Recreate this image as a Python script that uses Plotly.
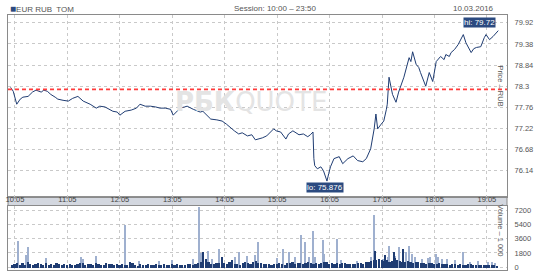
import plotly.graph_objects as go
from plotly.subplots import make_subplots
import datetime as dt

DAY = "2016-03-10 "

# ---- price series (time, RUB) ----
price_times = ["10:00","10:03","10:07","10:11","10:14","10:20","10:25","10:29","10:35","10:38",
               "10:42","10:46","10:51","10:54","11:00","11:06","11:11","11:17","11:23","11:31",
               "11:38","11:42","11:48","11:54","11:57","12:02","12:05","12:11","12:18","12:24",
               "12:28","12:34","12:40","12:46","12:51","12:57","13:03","13:06","13:10","13:14",
               "13:19","13:22","13:29","13:37","13:40","13:44","13:49","13:56","14:02","14:07",
               "14:12","14:16","14:21","14:25","14:31","14:36","14:40","14:45","14:48","14:53",
               "14:58","15:01","15:04","15:09","15:15","15:18","15:23","15:26","15:30","15:35",
               "15:40","15:43","15:46","15:47","15:48","15:51","15:55","15:58","16:02","16:04",
               "16:06","16:10","16:16","16:20","16:26","16:32","16:37","16:43","16:47","16:52",
               "16:54","16:56","16:58","17:00","17:04","17:07","17:10","17:11","17:13","17:15",
               "17:17","17:21","17:24","17:30","17:36","17:38","17:40","17:44","17:47","17:49",
               "17:55","17:59","18:03","18:07","18:12","18:16","18:18","18:22","18:24","18:28",
               "18:32","18:38","18:41","18:47","18:50","18:53","18:58","19:02","19:04","19:08",
               "19:12","19:18"]
price_values = [78.27,78.17,77.84,77.97,78.02,78.04,78.15,78.20,78.15,78.20,
                78.17,78.09,78.02,77.97,77.94,77.92,77.99,78.04,77.92,77.84,
                77.74,77.79,77.77,77.71,77.66,77.64,77.56,77.66,77.69,77.74,
                77.84,77.79,77.79,77.77,77.74,77.74,77.71,77.56,77.66,77.74,
                77.77,77.79,77.71,77.64,77.66,77.56,77.46,77.44,77.41,77.33,
                77.23,77.16,77.08,77.11,77.03,77.06,76.93,76.95,76.98,77.03,
                77.13,77.21,77.16,77.13,76.95,77.08,77.16,77.11,77.06,77.08,
                77.01,77.06,77.13,76.45,76.27,76.19,76.24,76.14,75.876,76.07,
                76.24,76.45,76.50,76.32,76.45,76.52,76.40,76.37,76.45,76.70,
                76.95,77.21,77.59,77.21,77.33,77.41,77.71,77.84,78.53,78.27,
                78.09,77.89,78.15,78.53,79.03,78.93,79.18,78.86,78.78,78.65,
                78.30,78.65,78.42,78.93,79.06,78.98,79.11,79.06,79.16,79.24,
                79.36,79.62,79.41,79.16,79.26,79.29,79.31,79.54,79.62,79.49,
                79.57,79.72]
prev_close = 78.22

# ---- volume: 3-minute base (dark) from 10:00 ----
base_volume = [
    300,450,600,380,520,350,700,420,300,480,560,400,350,620,300,450,380,520,400,330,
    420,350,500,300,380,450,520,600,350,400,480,300,550,420,380,350,600,450,400,380,
    500,350,420,300,380,700,520,300,250,400,350,300,420,280,350,400,300,380,450,320,
    350,400,300,450,380,300,350,420,500,380,450,600,700,900,1100,650,500,480,550,600,
    700,550,480,650,900,500,420,380,600,700,550,480,650,800,520,600,450,500,420,380,
    450,500,600,420,380,550,600,700,480,520,600,450,550,700,620,500,550,480,600,700,
    650,500,600,450,550,480,520,600,450,400,500,480,550,600,500,700,650,800,900,1000,
    1100,900,800,1000,700,850,1200,900,800,700,650,800,700,600,750,650,600,550,500,600,
    550,500,480,600,450,500,420,380,450,400,350,420,380,350,400,450,380,350,300,320,
    350,300,320,280,300,250]
# light spikes
spike_times = ["10:08","10:18","10:20","10:41","11:21","11:23","11:38","12:11","12:27","12:50",
               "13:05","13:29","13:36","13:38","13:46","13:51","13:59","14:17","14:21","14:31",
               "14:40","14:43","15:05","15:12","15:19","15:26","15:32","15:37","15:41","15:46",
               "15:48","15:57","15:59","16:14","16:18","16:36","16:52","16:56","17:06","17:12",
               "17:13","17:20","17:25","17:32","17:36","17:39","17:43","17:51","17:58","18:00",
               "18:07","18:09","18:14","18:19","18:29","18:38","18:46","18:55","19:06","19:11","19:14"]
spike_volume = [3400,1640,2650,1260,1390,1130,1510,5420,880,880,
                1000,1130,7680,1890,2140,1130,2390,1390,2000,1510,
                1640,3270,1260,2390,2000,1390,4150,3270,1390,4660,
                1390,3520,1760,3650,1000,880,1390,6680,1130,1390,
                2770,1510,2650,2000,2770,1760,1390,1130,1260,1390,
                1760,1390,1130,1130,1000,2000,750,880,750,750,630]
# dark spikes
dspike_times = ["13:40","14:02","16:57","17:19","17:29","17:08"]
dspike_volume = [2000,1400,2140,2000,2390,1600]

tick_labels = ["10:05","11:05","12:05","13:05","14:05","15:05","16:05","17:05","18:05","19:05"]
price_ticks = [76.14,76.68,77.22,77.76,78.3,78.84,79.38,79.92]
volume_ticks = [0,1800,3600,5400,7200]


def ts(hm):
    return DAY + hm


base_times = []
t0 = dt.datetime(2016, 3, 10, 10, 1, 30)
for i in range(len(base_volume)):
    base_times.append((t0 + dt.timedelta(minutes=3 * i)).strftime("%Y-%m-%d %H:%M:%S"))

NAVY = "#1f3c72"
LIGHT = "#9fb0cf"
GRID = "#c9c9c9"
FRAME = "#8a8a8a"
TXT = "#555555"
FONT = "Liberation Sans"
FS = 7.5

fig = make_subplots(rows=2, cols=1, shared_xaxes=False, vertical_spacing=0.0)

fig.add_trace(go.Scatter(x=[ts(t) for t in price_times], y=price_values, mode="lines",
                         line=dict(color=NAVY, width=1), hoverinfo="skip"), row=1, col=1)
fig.add_trace(go.Scatter(x=[ts("09:57"), ts("19:28")], y=[prev_close, prev_close], mode="lines",
                         line=dict(color="#ff3b3b", width=1.6, dash="4px,3px"), hoverinfo="skip"),
              row=1, col=1)

fig.add_trace(go.Bar(x=[ts(t) for t in spike_times], y=spike_volume, width=75000,
                     marker=dict(color=LIGHT, line=dict(width=0))), row=2, col=1)
fig.add_trace(go.Bar(x=[ts(t) for t in dspike_times], y=dspike_volume, width=75000,
                     marker=dict(color=NAVY, line=dict(width=0))), row=2, col=1)
fig.add_trace(go.Bar(x=base_times, y=base_volume, width=150000,
                     marker=dict(color=NAVY, line=dict(width=0))), row=2, col=1)

xr = [ts("09:57"), ts("19:28")]
tickvals = [ts(t) for t in tick_labels]


def pfrac(y):
    return (272 - y) / 257.0


fig.update_layout(
    width=548, height=275, margin=dict(l=8, r=41, t=15, b=3),
    paper_bgcolor="white", plot_bgcolor="white", showlegend=False,
    barmode="overlay", bargap=0,
    font=dict(family=FONT, size=FS, color=TXT),
    xaxis=dict(domain=[0, 1], range=xr, type="date", tickvals=tickvals, showticklabels=False,
               showgrid=True, gridcolor=GRID, griddash="dot", gridwidth=1, zeroline=False,
               showline=True, linecolor=FRAME, linewidth=1, mirror=True, ticks=""),
    yaxis=dict(domain=[pfrac(198), 1], range=[75.48, 80.12], side="right",
               tickvals=price_ticks, ticktext=[("%g" % v) for v in price_ticks],
               showgrid=True, gridcolor=GRID, griddash="dot", gridwidth=1, zeroline=False,
               showline=True, linecolor=FRAME, linewidth=1, mirror=True, ticks="",
               ticklabelstandoff=5, tickfont=dict(size=FS, color=TXT)),
    xaxis2=dict(domain=[0, 1], range=xr, type="date", tickvals=tickvals, ticktext=tick_labels,
                side="top", showticklabels=True, tickfont=dict(size=FS, color="#444444"),
                showgrid=True, gridcolor=GRID, griddash="dot", gridwidth=1, zeroline=False,
                showline=True, linecolor=FRAME, linewidth=1, mirror=True, ticks="",
                ticklabelstandoff=0),
    yaxis2=dict(domain=[0, pfrac(207)], range=[-380, 7830], side="right",
                tickvals=volume_ticks, ticktext=[str(v) for v in volume_ticks],
                showgrid=True, gridcolor=GRID, griddash="dot", gridwidth=1, zeroline=False,
                showline=True, linecolor=FRAME, linewidth=1, mirror=True, ticks="",
                ticklabelstandoff=5, tickfont=dict(size=FS, color=TXT)),
)

# time strip between the panels
fig.add_shape(type="rect", xref="paper", yref="paper", x0=0, x1=1, y0=pfrac(207), y1=pfrac(198),
              fillcolor="#d3d7df", line=dict(color=FRAME, width=1), layer="below")

ann = []
# watermark
ann.append(dict(xref="paper", yref="paper", x=(251 - 8) / 499.0, y=pfrac(103),
                text="<b>РБК</b>QUOTE", showarrow=False, xanchor="center", yanchor="middle",
                font=dict(family="DejaVu Sans", size=26, color="#e4e4e4")))
# header
ann.append(dict(xref="paper", yref="paper", x=0.0, y=pfrac(8), xanchor="left", yanchor="middle",
                text="<span style='color:#2b4a80;font-size:10px'>■</span>EUR RUB  TOM",
                showarrow=False, font=dict(size=FS + 0.5, color=TXT)))
ann.append(dict(xref="paper", yref="paper", x=(275 - 8) / 499.0, y=pfrac(8),
                xanchor="center", yanchor="middle",
                text="Session: 10:00 – 23:50", showarrow=False, font=dict(size=FS + 0.5, color=TXT)))
ann.append(dict(xref="paper", yref="paper", x=(496 - 8) / 499.0, y=pfrac(8), xanchor="right",
                yanchor="middle",
                text="10.03.2016", showarrow=False, font=dict(size=FS + 0.5, color=TXT)))
# axis titles inside frame
ann.append(dict(xref="paper", yref="paper", x=(501 - 8) / 499.0, y=pfrac(86),
                xanchor="center", yanchor="middle",
                text="Price – RUB", textangle=90, showarrow=False, font=dict(size=FS, color=TXT)))
ann.append(dict(xref="paper", yref="paper", x=(501 - 8) / 499.0, y=pfrac(232),
                xanchor="center", yanchor="middle",
                text="Volume – 1 000", textangle=90, showarrow=False, font=dict(size=FS, color=TXT)))
# hi / lo
hi_i = price_values.index(max(price_values))
lo_i = price_values.index(min(price_values))
ann.append(dict(x=ts(price_times[hi_i]), y=price_values[hi_i], xref="x", yref="y",
                text="hi: %.2f" % price_values[hi_i], showarrow=False, xanchor="right",
                yanchor="bottom", xshift=-2, yshift=3, bgcolor="#2b4a80", borderpad=0,
                font=dict(size=FS + 0.5, color="white")))
ann.append(dict(x=ts(price_times[lo_i]), y=price_values[lo_i], xref="x", yref="y",
                text="lo: %.3f" % price_values[lo_i], showarrow=False, xanchor="center",
                yanchor="top", xshift=-2, yshift=-1, bgcolor="#2b4a80", borderpad=0,
                font=dict(size=FS + 0.5, color="white")))
fig.update_layout(annotations=ann)

fig.write_html("out.html")
